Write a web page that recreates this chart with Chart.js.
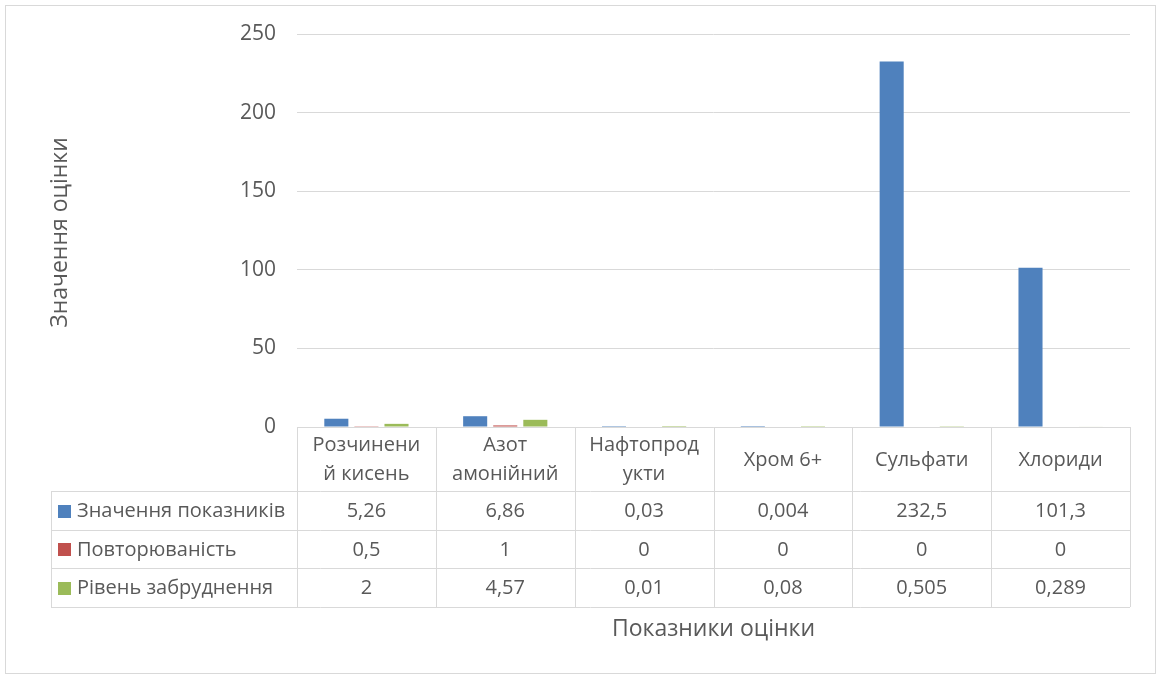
<!DOCTYPE html>
<html>
<head>
<meta charset="utf-8">
<script src="https://cdn.jsdelivr.net/npm/chart.js@4.4.1/dist/chart.umd.min.js"></script>
<style>
html,body{margin:0;padding:0;background:#fff;}
#wrap{position:absolute;left:0;top:0;width:1160px;height:677px;}
#frame{position:absolute;left:5px;top:5px;width:1151px;height:669px;border:1px solid #d9d9d9;box-sizing:border-box;}
canvas{position:absolute;left:0;top:0;}
</style>
</head>
<body>
<div id="wrap">
<div id="frame"></div>
<canvas id="c" width="1160" height="677"></canvas>
</div>
<script>
const categories = [["Розчинени","й кисень"],["Азот","амонійний"],["Нафтопрод","укти"],["Хром 6+"],["Сульфати"],["Хлориди"]];
const seriesNames = ["Значення показників","Повторюваність","Рівень забруднення"];
const valuesMain = [5.26, 6.86, 0.03, 0.004, 232.5, 101.3];
const valuesRepeat = [0.5, 1, 0, 0, 0, 0];
const valuesPollution = [2, 4.57, 0.01, 0.08, 0.505, 0.289];
const tableLabels = [
  ["5,26","6,86","0,03","0,004","232,5","101,3"],
  ["0,5","1","0","0","0","0"],
  ["2","4,57","0,01","0,08","0,505","0,289"]
];
const yTicks = [0,50,100,150,200,250];
const yTitle = "Значення оцінки";
const xTitle = "Показники оцінки";

const colors = ["#4f81bd","#c0504d","#9bbb59"];
const FONT = "'Open Sans', 'Noto Sans', sans-serif";
const TXT = "#595959";
const GRID = "#d9d9d9";

const tablePlugin = {
  id: 'tablePlugin',
  afterDraw(chart){
    const ctx = chart.ctx;
    const ca = chart.chartArea;
    const n = categories.length;
    const cw = (ca.right - ca.left)/n;
    const top = ca.bottom;
    const rows = [491, 530, 568, 607];
    const tableLeft = 51;
    ctx.save();
    ctx.strokeStyle = GRID;
    ctx.lineWidth = 1;
    ctx.beginPath();
    ctx.moveTo(ca.left, top+0.5); ctx.lineTo(ca.right, top+0.5);
    rows.forEach(r=>{ ctx.moveTo(tableLeft, r+0.5); ctx.lineTo(ca.right, r+0.5); });
    for(let i=0;i<=n;i++){
      const xx = Math.round(ca.left + i*cw)+0.5;
      ctx.moveTo(xx, top); ctx.lineTo(xx, rows[3]);
    }
    ctx.moveTo(tableLeft+0.5, rows[0]); ctx.lineTo(tableLeft+0.5, rows[3]);
    ctx.stroke();
    ctx.fillStyle = TXT;
    ctx.font = "20px " + FONT;
    ctx.textAlign = "center";
    ctx.textBaseline = "middle";
    categories.forEach((lines,i)=>{
      const cx = ca.left + (i+0.5)*cw;
      const mid = (top + rows[0])/2 + 1;
      const lh = 29;
      lines.forEach((t,j)=>{
        ctx.fillText(t, cx, mid + (j - (lines.length-1)/2)*lh);
      });
    });
    for(let r=0;r<3;r++){
      const cy = (rows[r]+rows[r+1])/2;
      ctx.textAlign = "center";
      tableLabels[r].forEach((t,i)=>{
        ctx.fillText(t, ca.left + (i+0.5)*cw, cy+1);
      });
      ctx.fillStyle = colors[r];
      ctx.fillRect(58, Math.round(cy-6), 13, 13);
      ctx.fillStyle = TXT;
      ctx.textAlign = "left";
      ctx.fillText(seriesNames[r], 77, cy+1);
    }
    ctx.font = "23px " + FONT;
    ctx.textAlign = "center";
    ctx.fillText(xTitle, (ca.left+ca.right)/2, 629);
    ctx.translate(60, (ca.top+ca.bottom)/2 + 2);
    ctx.rotate(-Math.PI/2);
    ctx.fillText(yTitle, 0, 0);
    ctx.restore();
  }
};

new Chart(document.getElementById('c'), {
  type: 'bar',
  data: {
    labels: categories,
    datasets: [
      {label: seriesNames[0], data: valuesMain, backgroundColor: colors[0]},
      {label: seriesNames[1], data: valuesRepeat, backgroundColor: colors[1]},
      {label: seriesNames[2], data: valuesPollution, backgroundColor: colors[2]}
    ]
  },
  options: {
    responsive: false,
    animation: false,
    devicePixelRatio: 1,
    layout: {padding: {left: 0, top: 34, right: 30, bottom: 250}},
    categoryPercentage: 0.65,
    barPercentage: 0.8,
    plugins: {legend: {display: false}, tooltip: {enabled: false}},
    scales: {
      x: {display: false},
      y: {
        min: 0, max: 250,
        afterFit(scale){ scale.width = 297; },
        afterBuildTicks(scale){ scale.ticks = yTicks.map(v=>({value:v})); },
        ticks: {color: TXT, font: {family: FONT, size: 21}, padding: 21},
        grid: {color: GRID, drawTicks: false, lineWidth: 1},
        border: {display: false}
      }
    }
  },
  plugins: [tablePlugin]
});
</script>
</body>
</html>
